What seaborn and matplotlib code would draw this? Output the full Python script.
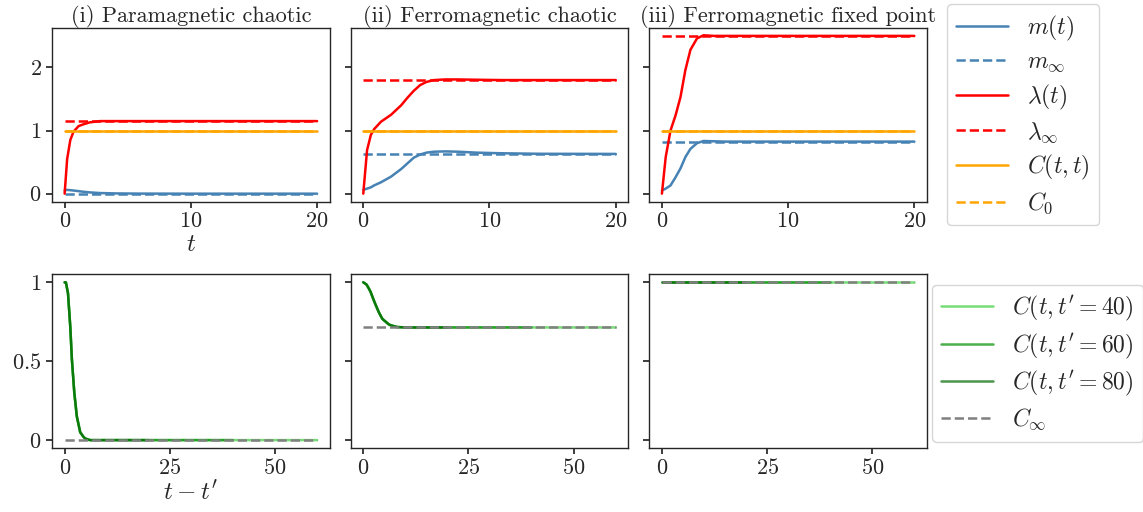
import numpy as np
import matplotlib
matplotlib.use("Agg")
import matplotlib.pyplot as plt
import seaborn as sns
from matplotlib.ticker import FuncFormatter

# ---------------- data ----------------
titles = ["(i) Paramagnetic chaotic", "(ii) Ferromagnetic chaotic", "(iii) Ferromagnetic fixed point"]

t_i = [0, 0.2, 0.45, 0.7, 1.1, 1.5, 2.0, 2.8, 4, 6, 10, 20]
lam_i = [0, 0.55, 0.85, 0.98, 1.07, 1.10, 1.13, 1.15, 1.15, 1.15, 1.15, 1.15]
m_i = [0.05, 0.06, 0.055, 0.05, 0.04, 0.03, 0.02, 0.01, 0.004, 0.001, 0, 0]

t_ii = [0, 0.3, 0.6, 0.85, 1.4, 2.2, 3.0, 3.5, 4.0, 4.5, 5.0, 5.6, 6.5, 7.5, 9, 11, 14, 20]
lam_ii = [0, 0.69, 0.93, 1.02, 1.14, 1.25, 1.40, 1.52, 1.63, 1.72, 1.77, 1.80, 1.81, 1.81, 1.805, 1.80, 1.80, 1.80]
m_ii = [0.06, 0.08, 0.10, 0.13, 0.18, 0.27, 0.39, 0.48, 0.57, 0.62, 0.65, 0.665, 0.67, 0.665, 0.65, 0.64, 0.632, 0.63]

t_iii = [0, 0.3, 0.68, 1.08, 1.47, 1.86, 2.26, 2.78, 3.3, 4.1, 5, 8, 20]
lam_iii = [0, 0.58, 1.0, 1.24, 1.53, 1.96, 2.28, 2.46, 2.51, 2.50, 2.50, 2.50, 2.50]
m_iii = [0.05, 0.08, 0.13, 0.26, 0.40, 0.58, 0.71, 0.80, 0.835, 0.83, 0.825, 0.825, 0.825]

m_inf = [0.0, 0.63, 0.825]
lam_inf = [1.15, 1.80, 2.50]
C_tt = [1.0, 1.0, 1.0]
C_0 = [1.0, 1.0, 1.0]
t_end = 20

tau = [0, 0.3, 0.8, 1.34, 1.73, 2.3, 2.9, 3.7, 4.5, 4.9, 6, 6.5, 8, 10, 20, 40, 60]
C_tau_i = [1.0, 1.0, 0.93, 0.72, 0.51, 0.30, 0.15, 0.05, 0.02, 0.01, 0.0, 0.0, 0.0, 0.0, 0.0, 0.0, 0.0]
C_tau_ii = [1.0, 0.995, 0.985, 0.96, 0.94, 0.90, 0.86, 0.81, 0.77, 0.76, 0.735, 0.728, 0.717, 0.714, 0.714, 0.714, 0.714]
C_tau_iii = [1.0] * 17
C_inf = [0.0, 0.714, 1.0]
t_prime = [40, 60, 80]
T_total = 100

# ---------------- style ----------------
sns.set_theme(style="ticks")
plt.rcParams.update({
    "font.family": "serif",
    "font.serif": ["cmr10", "DejaVu Serif"],
    "mathtext.fontset": "cm",
    "axes.formatter.use_mathtext": True,
    "axes.unicode_minus": False,
    "axes.edgecolor": "0.15",
    "axes.linewidth": 1.0,
    "xtick.color": "0.15",
    "ytick.color": "0.15",
    "xtick.major.size": 4,
    "ytick.major.size": 4,
    "font.size": 16,
})

fig, axes = plt.subplots(2, 3, figsize=(11.43, 5.12), dpi=100)
fig.subplots_adjust(left=0.0455, right=0.811, top=0.9453, bottom=0.125,
                    wspace=0.0755, hspace=0.42)

lw = 1.8
c_m, c_lam, c_C = "steelblue", "red", "orange"
green_cols = ["#3dce3d", "#008c00", "#006900"]

tops = [(t_i, m_i, lam_i), (t_ii, m_ii, lam_ii), (t_iii, m_iii, lam_iii)]
bots = [C_tau_i, C_tau_ii, C_tau_iii]

fmt = FuncFormatter(lambda v, p: r"$%g$" % v)

for k in range(3):
    ax = axes[0, k]
    tt, mm, ll = tops[k]
    sns.lineplot(x=tt, y=mm, ax=ax, color=c_m, lw=lw, label=r"$m(t)$")
    sns.lineplot(x=[0, t_end], y=[m_inf[k]] * 2, ax=ax, color=c_m, lw=lw, linestyle="--", label=r"$m_\infty$")
    sns.lineplot(x=tt, y=ll, ax=ax, color=c_lam, lw=lw, label=r"$\lambda(t)$")
    sns.lineplot(x=[0, t_end], y=[lam_inf[k]] * 2, ax=ax, color=c_lam, lw=lw, linestyle="--", label=r"$\lambda_\infty$")
    sns.lineplot(x=[0, t_end], y=[C_tt[k]] * 2, ax=ax, color=c_C, lw=lw, label=r"$C(t,t)$")
    sns.lineplot(x=[0, t_end], y=[C_0[k]] * 2, ax=ax, color=c_C, lw=lw, linestyle="--", label=r"$C_0$")
    ax.set_title(titles[k], fontsize=16, pad=4)
    ax.set_xticks([0, 10, 20])
    ax.set_yticks([0, 1, 2])
    ax.set_ylim(-0.125, 2.625)
    ax.get_legend().remove()

    ax = axes[1, k]
    for j, tp in enumerate(t_prime):
        n = sum(1 for v in tau if v <= T_total - tp)
        sns.lineplot(x=tau[:n], y=bots[k][:n], ax=ax, color=green_cols[j], alpha=0.7, lw=lw,
                     label=r"$C(t,t'=%d)$" % tp)
    sns.lineplot(x=[0, 60], y=[C_inf[k]] * 2, ax=ax, color="gray", lw=lw, linestyle="--", label=r"$C_\infty$")
    ax.set_xticks([0, 25, 50])
    ax.set_yticks([0, 0.5, 1])
    ax.set_ylim(-0.05, 1.05)
    ax.get_legend().remove()

for ax in axes.flat:
    ax.xaxis.set_major_formatter(fmt)
    ax.yaxis.set_major_formatter(fmt)
    ax.set_xlabel("")
    ax.set_ylabel("")
    ax.tick_params(labelsize=16)
    for s in ax.spines.values():
        s.set_visible(True)
for k in (1, 2):
    axes[0, k].tick_params(labelleft=False)
    axes[1, k].tick_params(labelleft=False)

axes[0, 0].set_xlabel(r"$t$", fontsize=18, labelpad=2)
axes[1, 0].set_xlabel(r"$t-t'$", fontsize=18, labelpad=2)

h, l = axes[0, 2].get_legend_handles_labels()
axes[0, 2].legend(h, l, loc="upper left", bbox_to_anchor=(1.072, 1.138), borderaxespad=0,
                  fontsize=17, handlelength=2.2, labelspacing=0.36, borderpad=0.4)
h, l = axes[1, 2].get_legend_handles_labels()
axes[1, 2].legend(h, l, loc="upper left", bbox_to_anchor=(1.018, 0.942), borderaxespad=0,
                  fontsize=17, handlelength=2.2, labelspacing=0.36, borderpad=0.4)

fig.savefig("out.png", dpi=100)
